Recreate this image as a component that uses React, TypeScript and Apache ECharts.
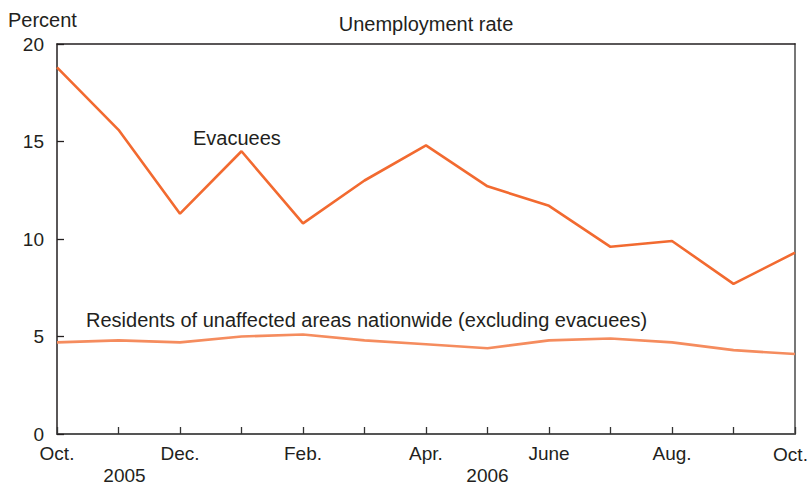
import React, { useEffect, useRef } from "react";
import * as echarts from "echarts";

const months = ["Oct.", "Nov.", "Dec.", "Jan.", "Feb.", "Mar.", "Apr.", "May", "June", "July", "Aug.", "Sep.", "Oct."];
const yearLabels = ["", "2005", "", "", "", "", "", "2006", "", "", "", "", ""];
const evacuees = [18.8, 15.6, 11.3, 14.5, 10.8, 13.0, 14.8, 12.7, 11.7, 9.6, 9.9, 7.7, 9.3];
const residents = [4.7, 4.8, 4.7, 5.0, 5.1, 4.8, 4.6, 4.4, 4.8, 4.9, 4.7, 4.3, 4.1];
const yTicks = [0, 5, 10, 15, 20];

const FONT = "Liberation Sans, Arial, sans-serif";
const FS = 19;
const FS_NOTE = 20;
const TXT = "#231f20";

export default function App() {
  const ref = useRef<HTMLDivElement>(null);
  useEffect(() => {
    document.body.style.margin = "0";
    if (!ref.current) return;
    const chart = echarts.init(ref.current, undefined, { renderer: "svg" });
    chart.setOption({
      animation: false,
      backgroundColor: "#ffffff",
      textStyle: { fontFamily: FONT },
      grid: { left: 57, right: 14, top: 44, bottom: 50, containLabel: false, outerBoundsMode: "none" },
      xAxis: [
        {
          type: "category",
          data: months,
          boundaryGap: false,
          position: "bottom",
          axisLine: { show: true, lineStyle: { color: "#555555", width: 2 } },
          axisTick: { show: true, inside: true, length: 7, interval: 0, lineStyle: { color: "#333333", width: 1.3 } },
          axisLabel: {
            interval: 1,
            margin: 10,
            color: TXT,
            fontSize: FS,
            lineHeight: 18,
            fontFamily: FONT,
            formatter: (v: string, i: number) => (i === months.length - 1 ? "{last|" + v + "}" : v),
            rich: { last: { fontSize: FS, lineHeight: 18, fontFamily: FONT, color: TXT, padding: [3, 9, 0, 0] } },
          },
          splitLine: { show: false },
        },
        {
          type: "category",
          data: yearLabels,
          boundaryGap: false,
          position: "bottom",
          offset: 0,
          axisLine: { show: false },
          axisTick: { show: false },
          axisLabel: {
            interval: 0,
            margin: 34,
            color: TXT,
            fontSize: FS,
            lineHeight: 14,
            fontFamily: FONT,
            formatter: (v: string, i: number) => (i === 1 ? "{shift|" + v + "}" : v),
            rich: { shift: { fontSize: FS, lineHeight: 14, fontFamily: FONT, color: TXT, padding: [0, 0, 0, 12] } },
          },
          splitLine: { show: false },
        },
        {
          type: "category",
          data: months,
          boundaryGap: false,
          position: "top",
          axisLine: { show: true, lineStyle: { color: "#231f20", width: 1.5 } },
          axisTick: { show: false },
          axisLabel: { show: false },
          splitLine: { show: false },
        },
      ],
      yAxis: [
        {
          type: "value",
          min: 0,
          max: 20,
          interval: 5,
          position: "left",
          axisLine: { show: true, lineStyle: { color: "#231f20", width: 1.5 } },
          axisTick: { show: true, inside: true, length: 7, lineStyle: { color: "#231f20", width: 1.3 } },
          axisLabel: {
            margin: 13,
            color: TXT,
            fontSize: FS,
            fontFamily: FONT,
            formatter: (v: number) => (yTicks.includes(v) ? String(v) : ""),
          },
          splitLine: { show: false },
        },
        {
          type: "value",
          min: 0,
          max: 20,
          interval: 5,
          position: "right",
          axisLine: { show: true, lineStyle: { color: "#777777", width: 2 } },
          axisTick: { show: false },
          axisLabel: { show: false },
          splitLine: { show: false },
        },
      ],
      graphic: [
        {
          type: "text",
          x: 8,
          y: 20,
          style: { text: "Percent", fontSize: FS_NOTE, fontFamily: FONT, fill: TXT, align: "left", verticalAlign: "middle" },
        },
        {
          type: "text",
          x: 426,
          y: 24,
          style: { text: "Unemployment rate", fontSize: FS_NOTE, fontFamily: FONT, fill: TXT, align: "center", verticalAlign: "middle" },
        },
        {
          type: "text",
          x: 193,
          y: 138,
          style: { text: "Evacuees", fontSize: FS_NOTE, fontFamily: FONT, fill: TXT, align: "left", verticalAlign: "middle" },
        },
        {
          type: "text",
          x: 86,
          y: 320,
          style: {
            text: "Residents of unaffected areas nationwide (excluding evacuees)",
            fontSize: FS_NOTE,
            fontFamily: FONT,
            fill: TXT,
            align: "left",
            verticalAlign: "middle",
          },
        },
      ],
      series: [
        {
          name: "Evacuees",
          type: "line",
          data: evacuees,
          xAxisIndex: 0,
          yAxisIndex: 0,
          symbol: "none",
          lineStyle: { color: "#f26a30", width: 2.6 },
          z: 3,
        },
        {
          name: "Residents",
          type: "line",
          data: residents,
          xAxisIndex: 0,
          yAxisIndex: 0,
          symbol: "none",
          lineStyle: { color: "#f58c5e", width: 2.6 },
          z: 2,
        },
      ],
    });
    return () => chart.dispose();
  }, []);
  return <div ref={ref} style={{ width: 809, height: 484 }} />;
}
